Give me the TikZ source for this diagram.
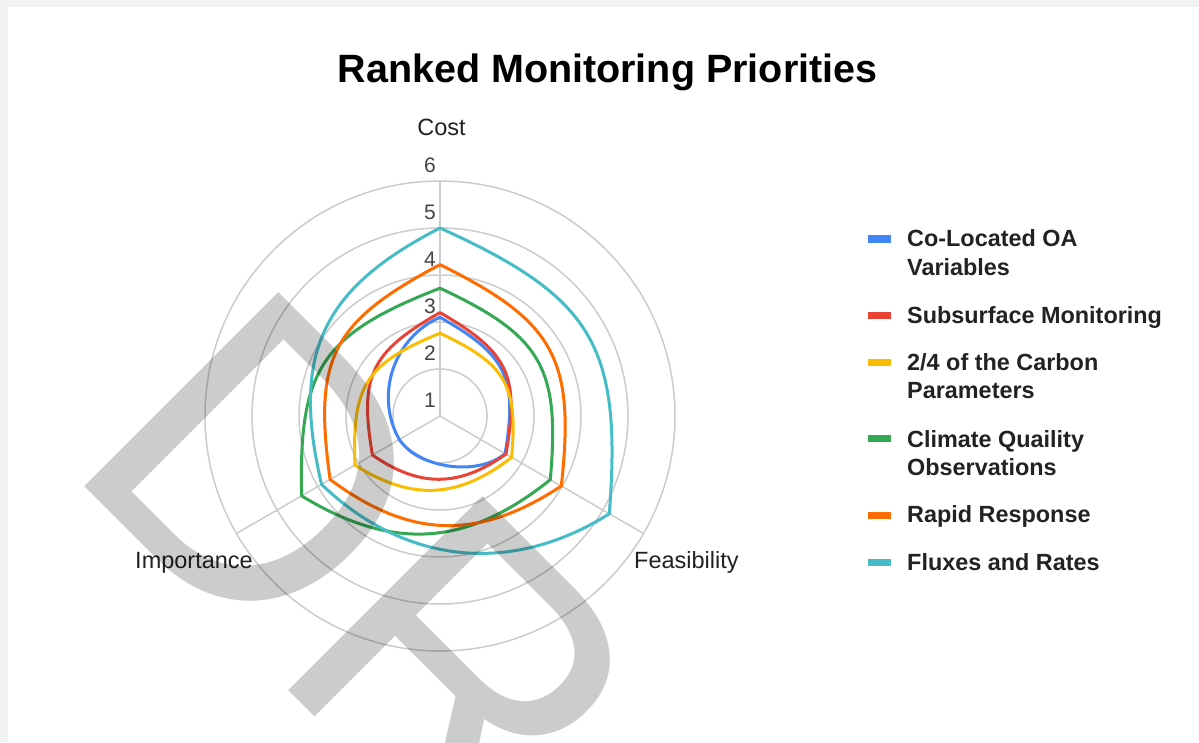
\documentclass[tikz,border=0pt]{standalone}
\usepackage{fontspec}
\setmainfont{Liberation Sans}

\definecolor{sblue}{HTML}{4285F4}
\definecolor{sred}{HTML}{EA4335}
\definecolor{syellow}{HTML}{FBBC04}
\definecolor{sgreen}{HTML}{34A853}
\definecolor{sorange}{HTML}{FF6D01}
\definecolor{scyan}{HTML}{46BDC6}
\definecolor{gridgray}{HTML}{CCCCCC}
\definecolor{bggray}{HTML}{F2F2F2}
\definecolor{txtdark}{HTML}{222222}
\definecolor{ticktxt}{HTML}{444444}

\tikzset{
  gridring/.style={draw=gridgray, line width=1.5pt},
  series/.style={line width=3pt, line join=round},
  upbend/.style={bend left=35, looseness=1.3},
  ibend/.style 2 args={bend left=#1, looseness=#2},
  axislabel/.style={font=\fontsize{23.5}{28}\selectfont, text=txtdark, inner sep=0pt},
  ticklabel/.style={font=\fontsize{21}{24}\selectfont, text=ticktxt, inner sep=0pt, anchor=east},
  legendtext/.style={font=\bfseries\fontsize{23.4}{28}\selectfont, text=txtdark, inner sep=0pt, anchor=base west, align=left},
  legendmark/.style={line width=7pt}
}

\begin{document}
\begin{tikzpicture}[x=1pt, y=1pt]
        \def\unit{47}

        % Sfondo
        \fill[bggray] (-440,-326) rectangle (759,416);
        \fill[white] (-432,-326) rectangle (759,409);
        \useasboundingbox (-440,-326) rectangle (759,416);

        \coordinate (centre) at (0,0);

        % Griglia
        \foreach \k in {1,...,5}
            \draw[gridring] (centre) circle ({\k*\unit});
        \foreach \a/\name in {90/cost, -30/feas, 210/imp}
            \draw[gridring] (centre) -- (\a:{5*\unit}) coordinate (\name-end);

        % Etichette assi
        \node[axislabel, anchor=base] (cost) at (1.5,280) {Cost};
        \node[axislabel, anchor=base west] (feas) at (194,-152) {Feasibility};
        \node[axislabel, anchor=base east] (imp) at (-187,-152) {Importance};

        % Valori
        \foreach \v in {1,...,6}
            \node[ticklabel] (tick\v) at (-4,{(\v-1)*\unit+15.5}) {\v};

        % Serie (Cost, Feasibility, Importance, curvatura a Importance)
        \foreach \name/\c/\f/\i/\ib in {sblue/3.1/2.6/2.0/48, sred/3.2/2.62/2.66/35,
                syellow/2.76/2.76/3.09/35, sgreen/3.72/3.71/4.4/35,
                sorange/4.22/3.98/3.7/35, scyan/5.0/5.16/3.91/38} {
            \pgfmathsetmacro\lup{0.746/sin(\ib)}
            \pgfmathsetmacro\llow{0.631/sin(\ib)}
            \coordinate (\name-c) at (90:{(\c-1)*\unit});
            \coordinate (\name-f) at (-30:{(\f-1)*\unit});
            \coordinate (\name-i) at (210:{(\i-1)*\unit});
            \draw[series, \name] (\name-c) to[upbend] (\name-f)
                to[ibend={\ib}{\llow}] (\name-i) to[ibend={\ib}{\lup}] cycle;
        }

        % Legenda (y del segno, y della base dell'ultima riga)
        \foreach \name/\ym/\yb/\txt [count=\n] in {sblue/177/141/{Co-Located OA\\Variables},
                sred/101/93/{Subsurface Monitoring}, syellow/53.3/18/{2/4 of the Carbon\\Parameters},
                sgreen/-22/-59/{Climate Quaility\\Observations}, sorange/-99/-106.7/{Rapid Response},
                scyan/-146.7/-154.7/{Fluxes and Rates}} {
            \draw[legendmark, \name] (428,\ym) -- (451,\ym);
            \node[legendtext] (leg\n) at (467,\yb) {\txt};
        }

        % Titolo
        \node[font=\bfseries\fontsize{39.5}{44}\selectfont, anchor=base, inner sep=0pt] (title)
            at (167.5,333) {Ranked Monitoring Priorities};

        % Filigrana
        \begin{scope}
            \clip (-432,-326) rectangle (759,409);
            \node[font=\fontsize{399}{400}\selectfont, text=black, text opacity=0.2,
                rotate=-45, anchor=base west, inner sep=0pt] (draft) at (-378.7,-47.3) {DR};
        \end{scope}
\end{tikzpicture}
\end{document}
